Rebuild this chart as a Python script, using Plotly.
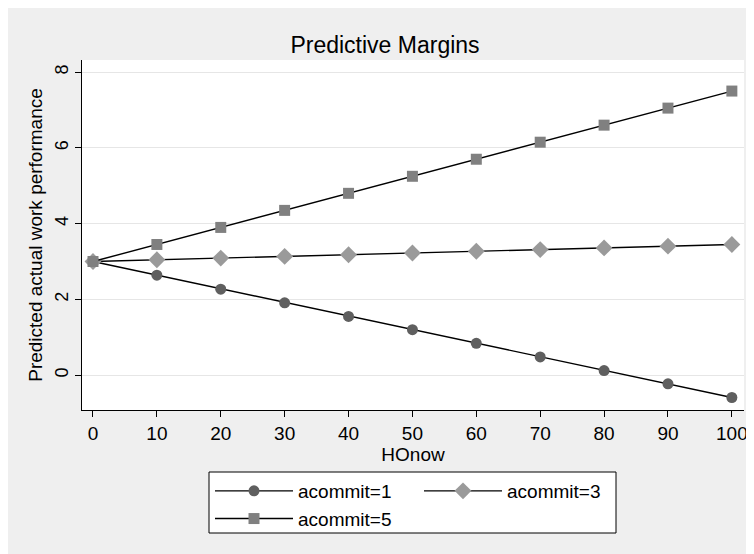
import plotly.graph_objects as go

honow = [0, 10, 20, 30, 40, 50, 60, 70, 80, 90, 100]
acommit1 = [3.0, 2.64, 2.27, 1.91, 1.55, 1.20, 0.84, 0.48, 0.12, -0.23, -0.59]
acommit3 = [3.0, 3.045, 3.09, 3.135, 3.18, 3.225, 3.27, 3.315, 3.36, 3.405, 3.45]
acommit5 = [3.0, 3.45, 3.90, 4.35, 4.80, 5.25, 5.70, 6.15, 6.60, 7.05, 7.50]
series_names = ["acommit=1", "acommit=3", "acommit=5"]
y_ticks = [0, 2, 4, 6, 8]
x_ticks = [0, 10, 20, 30, 40, 50, 60, 70, 80, 90, 100]

FONT = "Liberation Sans, Arial, sans-serif"
W, H = 754, 554
L, R, T, B = 74, 18, 52, 152
pw, ph = W - L - R, H - T - B

def px_x(p):
    return (p - L) / pw

def px_y(p):
    return (H - B - p) / ph

fig = go.Figure()
styles = [
    dict(symbol="circle", color="#5f5f5f", size=11, legend="legend"),
    dict(symbol="diamond", color="#9a9a9a", size=13, legend="legend2"),
    dict(symbol="square", color="#808080", size=11, legend="legend"),
]
for name, vals, st in zip(series_names, [acommit1, acommit3, acommit5], styles):
    fig.add_trace(go.Scatter(
        x=honow, y=vals, name=name, mode="lines+markers", legend=st["legend"],
        line=dict(color="black", width=1.4),
        marker=dict(symbol=st["symbol"], color=st["color"], size=st["size"], line=dict(width=0)),
    ))

# legend frame (page px 209..616 x 472..533, figure offset 8px)
shapes = [
    dict(type="rect", xref="paper", yref="paper", layer="below",
         x0=px_x(201), x1=px_x(608), y0=px_y(525), y1=px_y(464),
         fillcolor="white", line=dict(color="black", width=1)),
]

legend_common = dict(
    orientation="v", xanchor="left", yanchor="top",
    bgcolor="rgba(0,0,0,0)", borderwidth=0,
    itemwidth=78, font=dict(size=19, family=FONT), traceorder="normal",
)

fig.update_layout(
    width=W, height=H,
    margin=dict(l=L, r=R, t=T, b=B, pad=0),
    paper_bgcolor="#efefef",
    plot_bgcolor="white",
    font=dict(family=FONT, color="black", size=18),
    shapes=shapes,
    title=dict(text="Predictive Margins", x=377 / W, xanchor="center",
               xref="container", yref="container", y=1 - 37 / H, yanchor="middle",
               font=dict(size=23, family=FONT, color="black")),
    xaxis=dict(
        range=[-1.72, 101.9], tickvals=x_ticks, ticks="outside", ticklen=6,
        tickcolor="black", tickwidth=1, showline=True, linecolor="black", linewidth=1,
        showgrid=False, zeroline=False, tickfont=dict(size=19),
        title=dict(text="HOnow", font=dict(size=19), standoff=2),
    ),
    yaxis=dict(
        range=[-0.92, 8.32], tickvals=y_ticks, ticks="outside", ticklen=6,
        tickcolor="black", tickwidth=1, showline=True, linecolor="black", linewidth=1,
        showgrid=True, gridcolor="#e6e6e6", gridwidth=1, zeroline=False,
        tickangle=-90, tickfont=dict(size=18),
        title=dict(text="Predicted actual work performance", font=dict(size=19), standoff=4),
    ),
    legend=dict(x=px_x(202), y=px_y(464), **legend_common),
    legend2=dict(x=px_x(411), y=px_y(464), **legend_common),
    showlegend=True,
)

fig.write_html("out.html")
